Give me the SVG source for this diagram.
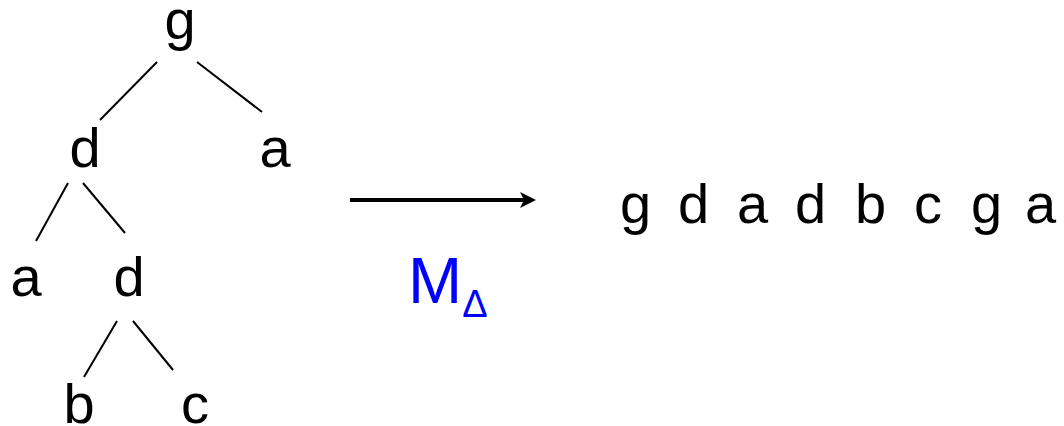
<svg xmlns="http://www.w3.org/2000/svg" width="1064" height="426" viewBox="0 0 1064 426">
<style>
.t{font-family:"Liberation Sans",Arial,sans-serif;font-size:56px;fill:#000;text-anchor:middle}
.e{stroke:#000;stroke-width:2;fill:none}
.m{font-family:"Liberation Sans",Arial,sans-serif;fill:#0000ff}
</style>
<defs>
<marker id="ah" markerUnits="userSpaceOnUse" viewBox="0 0 16 17" refX="6" refY="8.5" markerWidth="16" markerHeight="17" orient="auto">
<path d="M0,0.5 L16,8.5 L0,16.5 L4,8.5 Z" fill="#000"/>
</marker>
</defs>
<g id="connectors">
<line class="e" x1="157" y1="62" x2="100" y2="120"/>
<line class="e" x1="197" y1="62" x2="262" y2="112"/>
<line class="e" x1="68" y1="183" x2="36" y2="241"/>
<line class="e" x1="83" y1="183" x2="125" y2="233"/>
<line class="e" x1="117" y1="321" x2="84" y2="377"/>
<line class="e" x1="133" y1="321" x2="173" y2="370"/>
<line x1="350" y1="200" x2="526" y2="200" stroke="#000" stroke-width="4" marker-end="url(#ah)"/>
</g>
<g id="n-g"><text class="t" x="180" y="39">g</text></g>
<g id="n-d1"><text class="t" x="85" y="167">d</text></g>
<g id="n-a1"><text class="t" x="275" y="167">a</text></g>
<g id="n-a2"><text class="t" x="26" y="296">a</text></g>
<g id="n-d2"><text class="t" x="129" y="296">d</text></g>
<g id="n-b"><text class="t" x="79" y="423">b</text></g>
<g id="n-c"><text class="t" x="195" y="423">c</text></g>
<g id="label"><text class="m" x="408" y="303" font-size="65">M<tspan font-size="38" y="317">Δ</tspan></text></g>
<g id="sequence"><text class="t" style="text-anchor:start" x="620 650 678 708 737 767 795 825 855 885 914 944 971 1001 1025" y="223">g d a d b c g a</text></g>
</svg>
